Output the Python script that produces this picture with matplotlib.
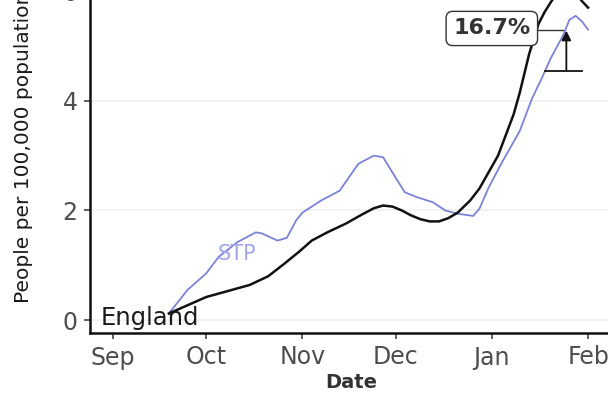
import matplotlib
matplotlib.use("Agg")
import matplotlib.pyplot as plt
from datetime import datetime, timedelta

# ---- data ----
england_dates = ["2020-09-19", "2020-09-25", "2020-10-01", "2020-10-08", "2020-10-15",
                 "2020-10-21", "2020-10-26", "2020-10-31", "2020-11-04", "2020-11-09",
                 "2020-11-15", "2020-11-20", "2020-11-24", "2020-11-27", "2020-11-30",
                 "2020-12-03", "2020-12-06", "2020-12-09", "2020-12-12", "2020-12-15",
                 "2020-12-18", "2020-12-21", "2020-12-25", "2020-12-28", "2020-12-31",
                 "2021-01-03", "2021-01-06", "2021-01-08", "2021-01-10", "2021-01-13",
                 "2021-01-16", "2021-01-18", "2021-01-20", "2021-01-23", "2021-01-26",
                 "2021-01-30", "2021-02-01"]
england_vals = [0.12, 0.27, 0.42, 0.53, 0.64,
                0.80, 1.02, 1.25, 1.45, 1.60,
                1.76, 1.92, 2.04, 2.09, 2.07,
                2.00, 1.91, 1.84, 1.80, 1.80,
                1.86, 1.96, 2.18, 2.40, 2.70,
                3.00, 3.45, 3.75, 4.15, 4.85,
                5.40, 5.62, 5.80, 6.05, 6.10,
                5.82, 5.70]

stp_dates = ["2020-09-19", "2020-09-25", "2020-10-01", "2020-10-05", "2020-10-11",
             "2020-10-17", "2020-10-19", "2020-10-24", "2020-10-27", "2020-10-30",
             "2020-11-01", "2020-11-07", "2020-11-13", "2020-11-19", "2020-11-24",
             "2020-11-27", "2020-12-01", "2020-12-04", "2020-12-08", "2020-12-13",
             "2020-12-17", "2020-12-21", "2020-12-26", "2020-12-28", "2020-12-31",
             "2021-01-04", "2021-01-10", "2021-01-14", "2021-01-17", "2021-01-20",
             "2021-01-24", "2021-01-26", "2021-01-28", "2021-01-30", "2021-02-01"]
stp_vals = [0.12, 0.55, 0.85, 1.15, 1.42,
            1.6, 1.58, 1.45, 1.5, 1.82,
            1.96, 2.18, 2.36, 2.85, 3.0,
            2.97, 2.6, 2.33, 2.24, 2.15,
            2.0, 1.94, 1.9, 2.03, 2.42,
            2.85, 3.45, 4.05, 4.4, 4.78,
            5.2, 5.48, 5.55, 5.45, 5.3]

month_ticks = ["2020-09-01", "2020-10-01", "2020-11-01", "2020-12-01", "2021-01-01", "2021-02-01"]
month_labels = ["Sep", "Oct", "Nov", "Dec", "Jan", "Feb"]
y_ticks = [0, 2, 4, 6]

annot_text = "16.7%"
annot_label_date = "2021-01-01"
annot_label_y = 5.32
arrow_date = "2021-01-25"
arrow_low = 4.55
arrow_high = 5.28
cap_start = "2021-01-18"
cap_end = "2021-01-30"

def d(s):
    return datetime.strptime(s, "%Y-%m-%d")

W, H = 608, 394
fig = plt.figure(figsize=(W / 100, H / 100), dpi=100)
fig.patch.set_facecolor("white")

# axes extend beyond the top/right of the canvas (cropped reference)
left_px, right_px, bottom_px = 90, 612, 333
ylo, yhi = -0.236, 6.5
px_per_unit = 54.8
top_px = 320 - yhi * px_per_unit
ax = fig.add_axes([left_px / W, 1 - bottom_px / H,
                   (right_px - left_px) / W, (bottom_px - top_px) / H])
ax.set_facecolor("white")

ax.set_ylim(ylo, yhi)
ax.set_xlim(d("2020-09-01") - timedelta(days=7.4), d("2021-02-01") + timedelta(days=7.7))

ax.grid(True, axis="y", color="#f0f0f0", linewidth=1.2)
ax.set_axisbelow(True)

ax.plot([d(s) for s in stp_dates], stp_vals, color="#7c82d6", linewidth=1.3, zorder=3)
ax.plot([d(s) for s in england_dates], england_vals, color="#111111", linewidth=1.8, zorder=4)

ax.text(d("2020-08-28"), 0.03, "England", fontsize=17.5, color="#1a1a1a",
        ha="left", va="center", zorder=5)
ax.text(d("2020-10-11"), 1.2, "STP", fontsize=15, color="#a3a7e8",
        ha="center", va="center", zorder=5)

# annotation
ax.plot([d("2021-01-11"), d("2021-01-24")], [arrow_high + 0.02, arrow_high + 0.02],
        color="#333333", linewidth=1.0, zorder=5)
ax.text(d(annot_label_date), annot_label_y, annot_text, fontsize=16, fontweight="bold",
        color="#333333", ha="center", va="center", zorder=6,
        bbox=dict(boxstyle="round,pad=0.32,rounding_size=0.3", facecolor="white",
                  edgecolor="#333333", linewidth=1.0))
ax.annotate("", xy=(d(arrow_date), arrow_high), xytext=(d(arrow_date), arrow_low),
            arrowprops=dict(arrowstyle="-|>", color="#111111", lw=1.3,
                            mutation_scale=14, shrinkA=0, shrinkB=0), zorder=6)
ax.plot([d(cap_start), d(cap_end)], [arrow_low, arrow_low], color="#111111",
        linewidth=1.3, zorder=6)

# axes styling
for s in ["top", "right"]:
    ax.spines[s].set_visible(False)
for s in ["left", "bottom"]:
    ax.spines[s].set_color("#111111")
    ax.spines[s].set_linewidth(1.8)

ax.set_xticks([d(s) for s in month_ticks])
ax.set_xticklabels(month_labels)
ax.set_yticks(y_ticks)
ax.set_yticklabels([str(v) for v in y_ticks])
ax.tick_params(axis="both", direction="out", length=4, width=1.1, color="#333333",
               labelsize=17, labelcolor="#4d4d4d", pad=5)

fig.text(351 / W, 1 - 383 / H, "Date", fontsize=14, fontweight="bold", color="#333333",
         ha="center", va="center")
fig.text(24 / W, 1 - 147 / H, "People per 100,000 population", fontsize=14.5,
         color="#1a1a1a", rotation=90, ha="center", va="center")

fig.savefig("out.png", dpi=100, facecolor="white")
